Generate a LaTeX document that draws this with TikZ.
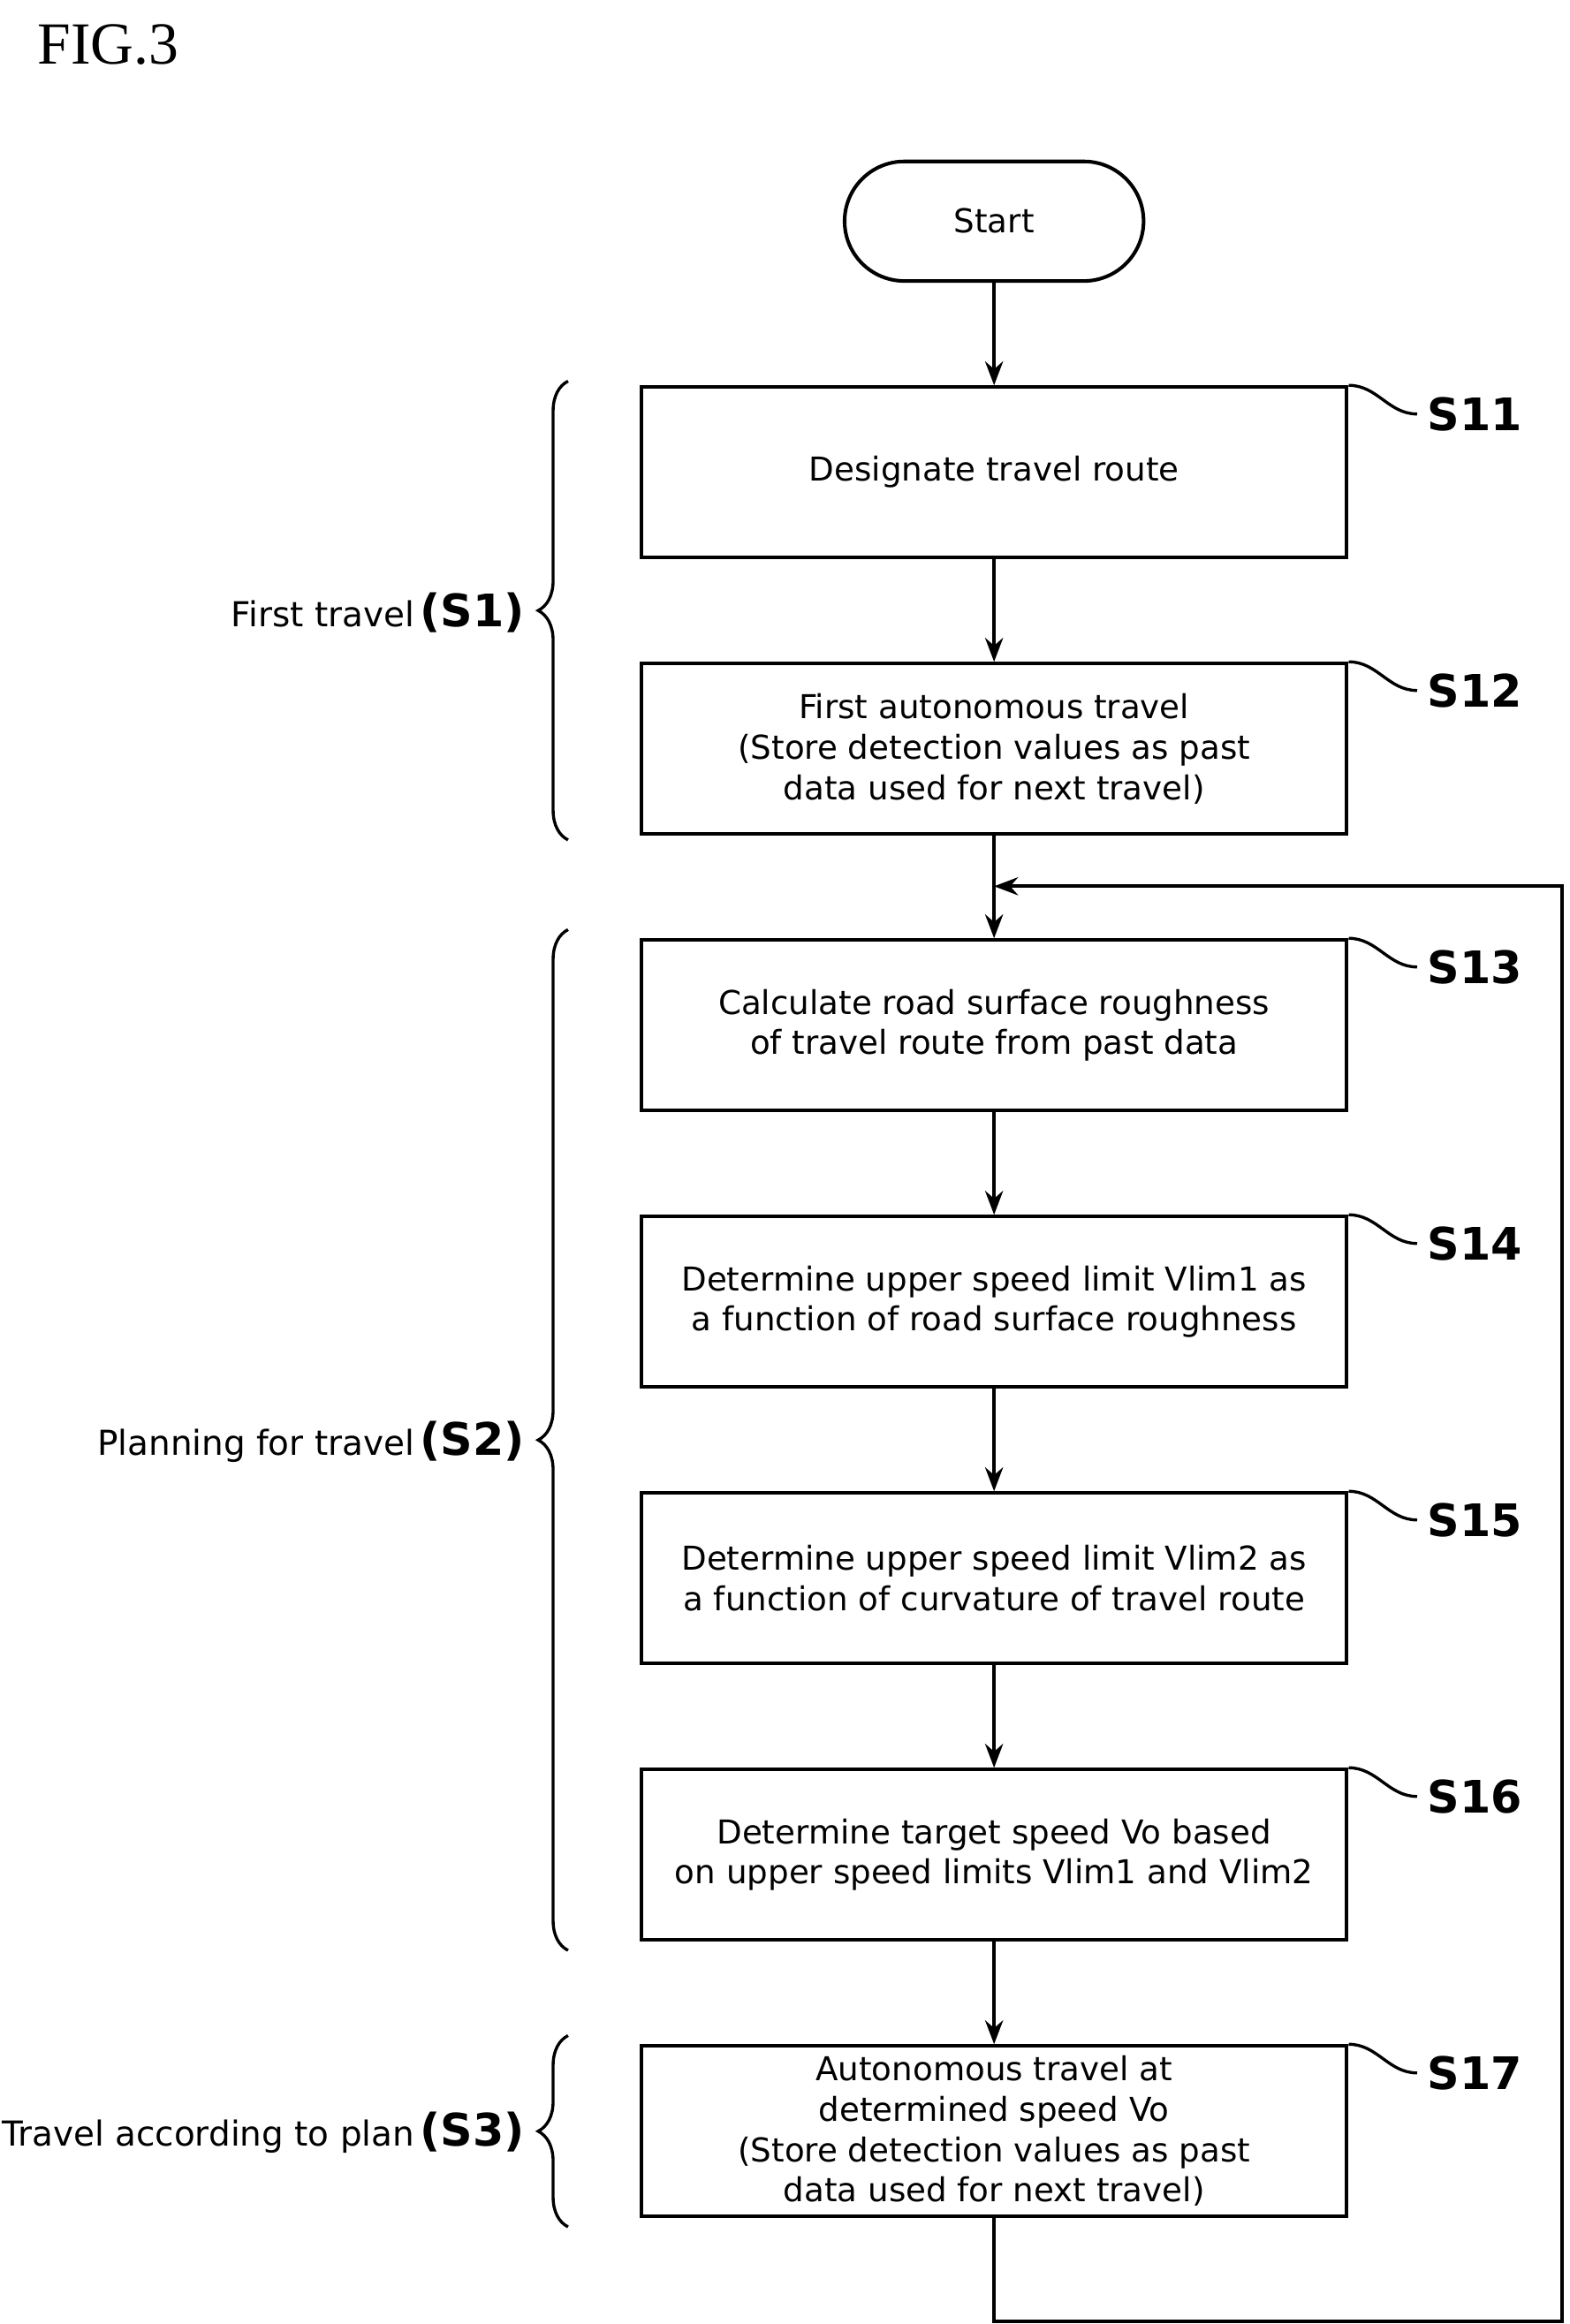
\documentclass[tikz,border=0pt]{standalone}
\usepackage{fontspec}
\setmainfont{DejaVu Sans}
\newfontfamily\figfont{Liberation Serif}
\usetikzlibrary{arrows.meta,decorations.pathreplacing,positioning}
\tikzset{
  stepbox/.style={ draw, line width=1.2pt, minimum width=236pt, minimum height=57pt, align=center, font=\fontsize{11}{13.5}\selectfont },
  steplab/.style={ anchor=west, font=\fontsize{15}{15}\selectfont\bfseries },
  phase/.style={ anchor=east, font=\fontsize{11.5}{13}\selectfont },
  flow/.style={ -{Stealth[length=8pt,width=6pt]}, line width=1.2pt }
}
\begin{document}
\begin{tikzpicture}[x=0.5pt,y=-0.5pt]
  \useasboundingbox (0,0) rectangle (1050,1555);
  \node[anchor=west, font=\figfont\fontsize{20}{20}\selectfont] (fig) at (18,30) {FIG.3};

  \node[draw, line width=1.2pt, rounded corners=20pt, minimum width=100pt, minimum height=40pt, font=\fontsize{11}{13}\selectfont] (start) at (665,148) {Start};

  \node[stepbox] (S11) at (665,316) {Designate travel route};
  \node[stepbox] (S12) at (665,501) {First autonomous travel\\(Store detection values as past\\data used for next travel)};
  \node[stepbox] (S13) at (665,686) {Calculate road surface roughness\\of travel route from past data};
  \node[stepbox] (S14) at (665,871) {Determine upper speed limit Vlim1 as\\a function of road surface roughness};
  \node[stepbox] (S15) at (665,1056) {Determine upper speed limit Vlim2 as\\a function of curvature of travel route};
  \node[stepbox] (S16) at (665,1241) {Determine target speed Vo based\\on upper speed limits Vlim1 and Vlim2};
  \node[stepbox] (S17) at (665,1426) {Autonomous travel at\\determined speed Vo\\(Store detection values as past\\data used for next travel)};

  % step labels
  \foreach \s/\y in {S11/277,S12/462,S13/647,S14/832,S15/1017,S16/1202,S17/1387}{
    \node[steplab] (l\s) at (948,\y) {\s};
    \draw[line width=1pt] (\s.north east) to[out=0,in=180] (l\s.west);
  }

  % flow
  \draw[flow] (start) -- (S11);
  \draw[flow] (S11) -- (S12);
  \draw[flow] (S12) -- (S13);
  \draw[flow] (S13) -- (S14);
  \draw[flow] (S14) -- (S15);
  \draw[flow] (S15) -- (S16);
  \draw[flow] (S16) -- (S17);
  \coordinate (merge) at (665,593);
  \draw[flow] (S17.south) -- (665,1553) -- (1045,1553) -- (1045,593) -- (merge);

  % phases
  \draw[line width=1pt, decorate, decoration={brace, amplitude=10pt}] (380,562) -- (380,255) coordinate[midway] (b1);
  \draw[line width=1pt, decorate, decoration={brace, amplitude=10pt}] (380,1305) -- (380,622);
  \draw[line width=1pt, decorate, decoration={brace, amplitude=10pt}] (380,1490) -- (380,1362);
  \node[phase] (P1) at (358,410) {First travel\,{\fontsize{15}{15}\selectfont\bfseries (S1)}};
  \node[phase] (P2) at (358,965) {Planning for travel\,{\fontsize{15}{15}\selectfont\bfseries (S2)}};
  \node[phase] (P3) at (358,1427) {Travel according to plan\,{\fontsize{15}{15}\selectfont\bfseries (S3)}};
\end{tikzpicture}
\end{document}
